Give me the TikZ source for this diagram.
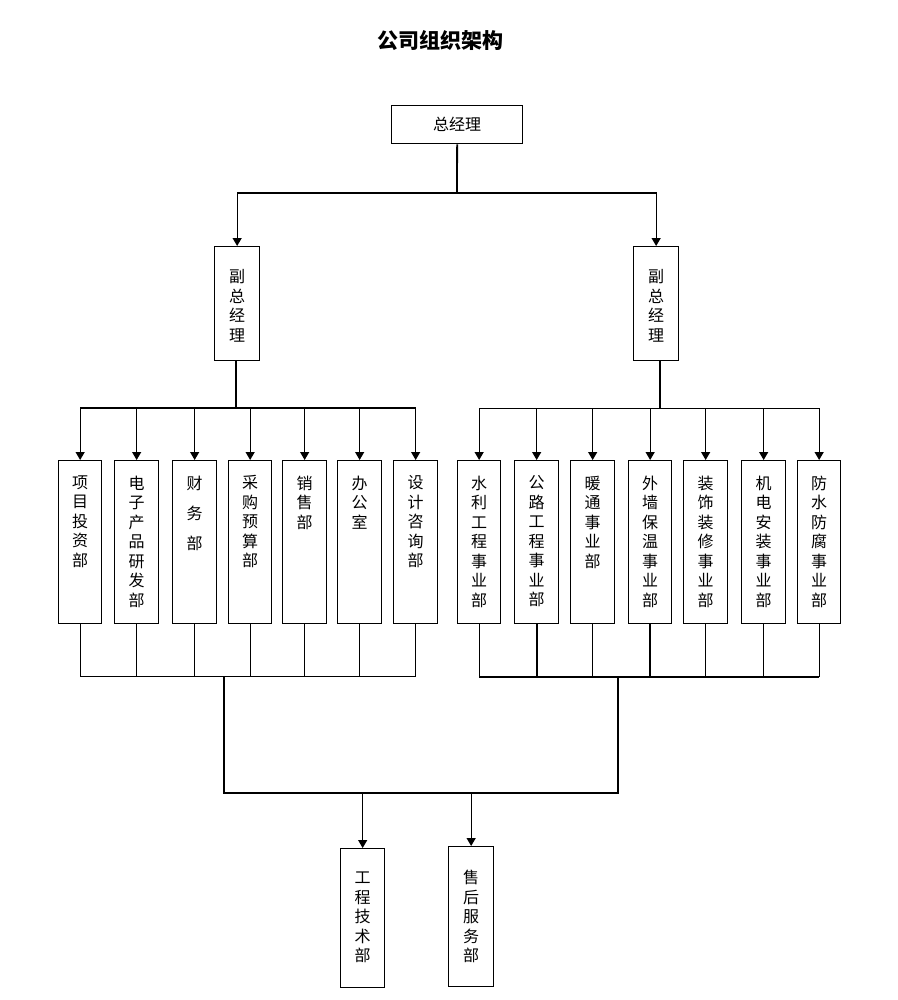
\documentclass[tikz,border=0pt]{standalone}
\usepackage{fontspec}
\setmainfont{Noto Sans CJK SC}
\usetikzlibrary{arrows.meta,calc}
\tikzset{
  box/.style={draw, line width=1.3pt, inner sep=0pt, anchor=north west},
  vtxt/.style={inner sep=0pt, align=center, anchor=north, font=\fontsize{16}{19.5}\selectfont},
  htxt/.style={inner sep=0pt, font=\fontsize{16}{19.5}\selectfont},
  arr/.style={-{Triangle[width=9pt,length=8pt]}, line width=1.3pt},
  thick line/.style={line width=1.8pt},
  mid line/.style={line width=1.2pt},
  thin line/.style={line width=0.9pt},
}
\begin{document}
\begin{tikzpicture}[x=1pt,y=-1pt]
\useasboundingbox (0,0) rectangle (897,1000);
\node[inner sep=0pt, font=\fontsize{21}{24}\selectfont\bfseries] (title) at (440,41) {公司组织架构};

% general manager
\node[box, minimum width=131pt, minimum height=38pt] (gm) at (391,105) {};
\node[htxt] (gmt) at (gm.center) {总经理};

% vice general managers
\node[box, minimum width=45pt, minimum height=114pt] (vp1) at (214,246) {};
\node[vtxt] (vp1t) at ([yshift=-23.5pt]vp1.north) {副\\总\\经\\理};
\node[box, minimum width=45pt, minimum height=114pt] (vp2) at (633,246) {};
\node[vtxt] (vp2t) at ([yshift=-23.5pt]vp2.north) {副\\总\\经\\理};

% left departments
\foreach \n/\x/\w in {d1/58/43, d2/114/44, d3/172/44, d4/228/43, d5/282/44, d6/337/44, d7/393/44}{
  \node[box, minimum width=\w pt, minimum height=163pt] (\n) at (\x,460) {};
}
\node[vtxt] (d1t) at ([yshift=-15.5pt]d1.north) {项\\目\\投\\资\\部};
\node[vtxt] (d2t) at ([yshift=-15.5pt]d2.north) {电\\子\\产\\品\\研\\发\\部};
\node[vtxt, font=\fontsize{16}{30}\selectfont] (d3t) at ([yshift=-15.5pt]d3.north) {财\\务\\部};
\node[vtxt] (d4t) at ([yshift=-15.5pt]d4.north) {采\\购\\预\\算\\部};
\node[vtxt] (d5t) at ([yshift=-15.5pt]d5.north) {销\\售\\部};
\node[vtxt] (d6t) at ([yshift=-15.5pt]d6.north) {办\\公\\室};
\node[vtxt] (d7t) at ([yshift=-15.5pt]d7.north) {设\\计\\咨\\询\\部};

% right departments
\foreach \n/\x/\w in {e1/457/43, e2/514/44, e3/570/44, e4/628/43, e5/683/44, e6/741/44, e7/797/43}{
  \node[box, minimum width=\w pt, minimum height=163pt] (\n) at (\x,460) {};
}
\node[vtxt] (e1t) at ([yshift=-15.5pt]e1.north) {水\\利\\工\\程\\事\\业\\部};
\node[vtxt] (e2t) at ([yshift=-15.5pt]e2.north) {公\\路\\工\\程\\事\\业\\部};
\node[vtxt] (e3t) at ([yshift=-15.5pt]e3.north) {暖\\通\\事\\业\\部};
\node[vtxt] (e4t) at ([yshift=-15.5pt]e4.north) {外\\墙\\保\\温\\事\\业\\部};
\node[vtxt] (e5t) at ([yshift=-15.5pt]e5.north) {装\\饰\\装\\修\\事\\业\\部};
\node[vtxt] (e6t) at ([yshift=-15.5pt]e6.north) {机\\电\\安\\装\\事\\业\\部};
\node[vtxt] (e7t) at ([yshift=-15.5pt]e7.north) {防\\水\\防\\腐\\事\\业\\部};

% bottom departments
\node[box, minimum width=44pt, minimum height=139pt] (b1) at (340,848) {};
\node[vtxt] (b1t) at ([yshift=-24pt]b1.north) {工\\程\\技\\术\\部};
\node[box, minimum width=45pt, minimum height=140pt] (b2) at (448,846) {};
\node[vtxt] (b2t) at ([yshift=-24pt]b2.north) {售\\后\\服\\务\\部};

% coordinates
\coordinate (topbus) at (457,193);
\coordinate (lbus) at (236,408);
\coordinate (rbus) at (660,408);
\coordinate (lbot) at (224,676);
\coordinate (rbot) at (618,677);
\coordinate (m1) at (224,793);
\coordinate (m2) at (618,793);

% top connectors
\draw[thick line] (gm.south) -- (topbus);
\draw[arr] (topbus) -| (vp1.north);
\draw[arr] (topbus) -| (vp2.north);

% left branch
\draw[mid line] (lbus |- vp1.south) -- (lbus);
\draw[thick line] (d1.north |- lbus) -- (d7.north |- lbus);
\foreach \n in {d1,d2,d3,d4,d5,d6,d7}{
  \draw[arr] (\n.north |- lbus) -- (\n.north);
  \draw[thin line] (\n.south) -- (\n.south |- lbot);
}
\draw[thin line] (d1.south |- lbot) -- (d7.south |- lbot);

% right branch
\draw[thick line] (rbus |- vp2.south) -- (rbus);
\draw[thin line] (e1.north |- rbus) -- (e7.north |- rbus);
\foreach \n in {e1,e2,e3,e4,e5,e6,e7}{
  \draw[arr] (\n.north |- rbus) -- (\n.north);
}
\foreach \n in {e1,e3,e5,e6,e7}{
  \draw[thin line] (\n.south) -- (\n.south |- rbot);
}
\foreach \n in {e2,e4}{
  \draw[thick line] (\n.south) -- (\n.south |- rbot);
}
\draw[thick line] (e1.south |- rbot) -- (e7.south |- rbot);

% lower collection
\draw[thick line] (lbot) -- (m1) -- (m2) -- (rbot);
\draw[arr] (b1.north |- m1) -- (b1.north);
\draw[arr] (b2.north |- m1) -- (b2.north);
\end{tikzpicture}
\end{document}
